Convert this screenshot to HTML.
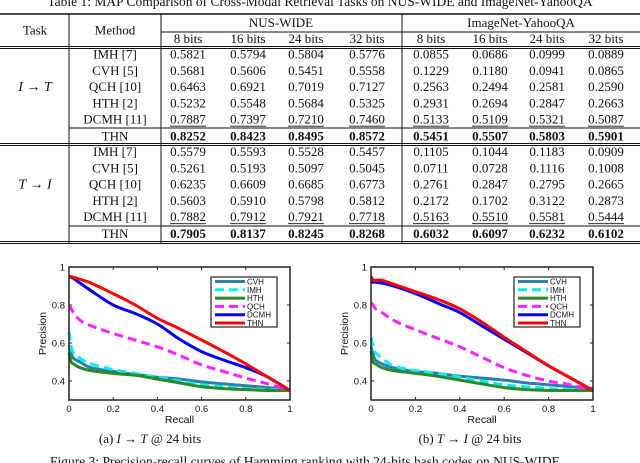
<!DOCTYPE html>
<html><head><meta charset="utf-8"><style>
html,body{margin:0;padding:0;background:#fff;width:640px;height:463px;overflow:hidden}
svg{display:block}
text{font-family:"Liberation Serif",serif;fill:#111}
.s{font-family:"Liberation Sans",sans-serif}
</style></head><body>
<svg id="root" width="640" height="463" viewBox="0 0 640 463">
<text x="320" y="6" font-size="13.5" text-anchor="middle">Table 1: MAP Comparison of Cross-Modal Retrieval Tasks on NUS-WIDE and ImageNet-YahooQA</text>
<g id="table"></g>
<g id="chartA"></g>
<g id="chartB"></g>
<text x="150" y="443" font-size="13" text-anchor="middle">(a) <tspan font-style="italic">I</tspan> → <tspan font-style="italic">T</tspan> @ 24 bits</text>
<text x="470" y="443" font-size="13" text-anchor="middle">(b) <tspan font-style="italic">T</tspan> → <tspan font-style="italic">I</tspan> @ 24 bits</text>
<text x="50" y="466" font-size="13.5">Figure 3: Precision-recall curves of Hamming ranking with 24-bits hash codes on NUS-WIDE</text>
</svg>
<script>
const NS="http://www.w3.org/2000/svg";
function mk(tag,attrs,parent,txt){const e=document.createElementNS(NS,tag);for(const k in attrs)e.setAttribute(k,attrs[k]);if(txt!==undefined)e.textContent=txt;parent.appendChild(e);return e;}

// ---- table data ----
const methods=["IMH [7]","CVH [5]","QCH [10]","HTH [2]","DCMH [11]","THN"];
const bitLabels=["8 bits","16 bits","24 bits","32 bits","8 bits","16 bits","24 bits","32 bits"];
const i2tValues=[
["0.5821","0.5794","0.5804","0.5776","0.0855","0.0686","0.0999","0.0889"],
["0.5681","0.5606","0.5451","0.5558","0.1229","0.1180","0.0941","0.0865"],
["0.6463","0.6921","0.7019","0.7127","0.2563","0.2494","0.2581","0.2590"],
["0.5232","0.5548","0.5684","0.5325","0.2931","0.2694","0.2847","0.2663"],
["0.7887","0.7397","0.7210","0.7460","0.5133","0.5109","0.5321","0.5087"],
["0.8252","0.8423","0.8495","0.8572","0.5451","0.5507","0.5803","0.5901"]];
const t2iValues=[
["0.5579","0.5593","0.5528","0.5457","0.1105","0.1044","0.1183","0.0909"],
["0.5261","0.5193","0.5097","0.5045","0.0711","0.0728","0.1116","0.1008"],
["0.6235","0.6609","0.6685","0.6773","0.2761","0.2847","0.2795","0.2665"],
["0.5603","0.5910","0.5798","0.5812","0.2172","0.1702","0.3122","0.2873"],
["0.7882","0.7912","0.7921","0.7718","0.5163","0.5510","0.5581","0.5444"],
["0.7905","0.8137","0.8245","0.8268","0.6032","0.6097","0.6232","0.6102"]];

const T=document.getElementById('table');
const colX=[188,248,306,367,431,490,547,606];
function line(x1,y1,x2,y2,w){const l=mk('line',{x1,y1,x2,y2,stroke:'#111','stroke-width':w||1},T);

}
line(0,14,640,14,1.4);
line(161,32,640,32);
line(0,46.5,640,46.5);line(0,48.5,640,48.5);
line(69,128,640,128);
line(0,143.5,640,143.5);line(0,145.5,640,145.5);
line(69,226,640,226);
line(0,241.5,640,241.5);line(0,243.5,640,243.5);
[69,161,402].forEach(x=>line(x,14,x,243.5));
function txt(x,y,s,opt){const t=mk('text',Object.assign({x,y,'font-size':13,'text-anchor':'middle'},opt||{}),T,s);return t;}
let h;
h=txt(35,34.5,"Task");
h=txt(115,34.5,"Method");
h=txt(281,27,"NUS-WIDE");
h=txt(521,27,"ImageNet-YahooQA");
bitLabels.forEach((b,i)=>{const t=txt(colX[i],43,b);

});
function block(vals,y0,task){
 const tl=mk('text',{x:35,y:y0+16.3*2+4.5,'font-size':14,'text-anchor':'middle','font-style':'italic'},T);
 tl.innerHTML=task;
 
 
 methods.forEach((m,r)=>{
  const y=(r==5?y0+16.3*5+0.5:y0+16.3*r)+4.5;
  const mt=txt(115,y,m);
  
  
  vals[r].forEach((v,c)=>{
   const t=txt(colX[c],y,v,r==5?{'font-weight':'bold'}:{});
   
   
   if(r==4){const u=mk('line',{x1:colX[c]-18,x2:colX[c]+18,y1:y+2.5,y2:y+2.5,stroke:'#111','stroke-width':0.8},T);
   
   }
  });
 });
}
block(i2tValues,54,'I <tspan font-style="normal">→</tspan> T');
block(t2iValues,151.5,'T <tspan font-style="normal">→</tspan> I');

// ---- chart data ----
const recallTicks=[0,0.2,0.4,0.6,0.8,1];
const precisionTicks=[0.4,0.6,0.8,1];
const seriesNames=["CVH","IMH","HTH","QCH","DCMH","THN"];
const seriesColors=["#2a7fb0","#00f0f0","#2a8a2a","#ff22ff","#0000ff","#ff0000"];
const seriesDash=[null,"9,5",null,"9,5",null,null];
const recallA=[0,0.01,0.02,0.05,0.1,0.2,0.3,0.4,0.5,0.6,0.7,0.8,0.9,1];
const cvhA=[0.59,0.55,0.52,0.5,0.47,0.45,0.435,0.42,0.41,0.395,0.385,0.375,0.365,0.35];
const imhA=[0.66,0.58,0.55,0.52,0.49,0.46,0.44,0.42,0.40,0.38,0.37,0.36,0.355,0.35];
const hthA=[0.55,0.5,0.49,0.47,0.455,0.44,0.43,0.41,0.39,0.37,0.36,0.355,0.35,0.35];
const qchA=[0.80,0.78,0.76,0.72,0.69,0.65,0.615,0.58,0.535,0.485,0.45,0.415,0.385,0.35];
const dcmhA=[0.95,0.945,0.94,0.915,0.875,0.80,0.755,0.70,0.62,0.555,0.51,0.47,0.42,0.35];
const thnA=[0.95,0.948,0.946,0.935,0.915,0.86,0.80,0.73,0.675,0.616,0.555,0.49,0.42,0.35];
const recallB=[0,0.01,0.02,0.05,0.1,0.2,0.3,0.4,0.5,0.6,0.7,0.8,0.9,1];
const cvhB=[0.58,0.54,0.51,0.49,0.47,0.45,0.44,0.425,0.415,0.405,0.39,0.38,0.37,0.36];
const imhB=[0.63,0.58,0.55,0.52,0.48,0.455,0.44,0.42,0.40,0.38,0.37,0.36,0.355,0.35];
const hthB=[0.56,0.5,0.49,0.47,0.455,0.44,0.425,0.405,0.385,0.365,0.355,0.35,0.35,0.35];
const qchB=[0.81,0.8,0.78,0.76,0.72,0.67,0.625,0.58,0.525,0.47,0.43,0.40,0.38,0.35];
const dcmhB=[0.92,0.92,0.92,0.915,0.9,0.86,0.81,0.76,0.69,0.62,0.55,0.48,0.415,0.35];
const thnB=[0.95,0.93,0.93,0.93,0.91,0.87,0.83,0.78,0.71,0.63,0.555,0.48,0.415,0.35];

function smooth(pts){
 let d='M'+pts[0][0].toFixed(1)+','+pts[0][1].toFixed(1);
 for(let i=0;i<pts.length-1;i++){
  const p0=pts[Math.max(0,i-1)],p1=pts[i],p2=pts[i+1],p3=pts[Math.min(pts.length-1,i+2)];
  const c1=[p1[0]+(p2[0]-p0[0])/6,p1[1]+(p2[1]-p0[1])/6],c2=[p2[0]-(p3[0]-p1[0])/6,p2[1]-(p3[1]-p1[1])/6];
  d+='C'+c1.map(v=>v.toFixed(1)).join(',')+' '+c2.map(v=>v.toFixed(1)).join(',')+' '+p2.map(v=>v.toFixed(1)).join(',');
 }
 return d;
}
function chart(g,x0,x1,recall,series,legX){
 const y0=267,y1=400;
 const sx=v=>x0+(x1-x0)*v, sy=v=>y1-(v-0.3)/0.7*(y1-y0);
 const bg=mk('rect',{x:x0,y:y0,width:x1-x0,height:y1-y0,fill:'#fff'},g);
 
 
 recallTicks.forEach(v=>{
  const t=mk('text',{x:sx(v),y:y1+12,'font-size':9.5,'text-anchor':'middle',class:'s',fill:'#333'},g,String(v));
  
  
  [[y1,y1-3],[y0,y0+3]].forEach(p=>{const k=mk('line',{x1:sx(v),x2:sx(v),y1:p[0],y2:p[1],stroke:'#222'},g);
  
  });
 });
 precisionTicks.forEach(v=>{
  const t=mk('text',{x:x0-4,y:sy(v)+3.5,'font-size':9.5,'text-anchor':'end',class:'s',fill:'#333'},g,String(v));
  
  
  [[x0,x0+3],[x1,x1-3]].forEach(p=>{const k=mk('line',{x1:p[0],x2:p[1],y1:sy(v),y2:sy(v),stroke:'#222'},g);
  
  });
 });
 series.forEach((s,i)=>{
  const d=smooth(recall.map((r,j)=>[sx(r),sy(s[j])]));
  const p=mk('path',{d,fill:'none',stroke:seriesColors[i],'stroke-width':3,'stroke-linejoin':'round'},g);
  if(seriesDash[i])p.setAttribute('stroke-dasharray',seriesDash[i]);
  
  
 });
 const fr=mk('rect',{x:x0,y:y0,width:x1-x0,height:y1-y0,fill:'none',stroke:'#222','stroke-width':1.5},g);
 
 
 const lw=66;
 const lb=mk('rect',{x:legX,y:277,width:lw,height:50,fill:'#fff',stroke:'#222','stroke-width':1.2},g);
 
 
 seriesNames.forEach((n,i)=>{
  const y=281.5+i*8.3;
  const l=mk('line',{x1:legX+4,x2:legX+34,y1:y,y2:y,stroke:seriesColors[i],'stroke-width':3},g);
  if(seriesDash[i])l.setAttribute('stroke-dasharray','9,5');
  
  
  const t=mk('text',{x:legX+36,y:y+3,'font-size':8,class:'s',fill:'#333'},g,n);
  
  
 });
 const xl=mk('text',{x:(x0+x1)/2,y:y1+23,'font-size':10.5,'text-anchor':'middle',class:'s',fill:'#333'},g,'Recall');
 
 
 const yl=mk('text',{x:0,y:0,'font-size':10.5,'text-anchor':'middle',class:'s',fill:'#333',transform:`translate(${x0-23},${(y0+y1)/2}) rotate(-90)`},g,'Precision');
 
 
}
chart(document.getElementById('chartA'),69,290,recallA,[cvhA,imhA,hthA,qchA,dcmhA,thnA],211);
chart(document.getElementById('chartB'),371,593,recallB,[cvhB,imhB,hthB,qchB,dcmhB,thnB],514);
</script>
</body></html>
